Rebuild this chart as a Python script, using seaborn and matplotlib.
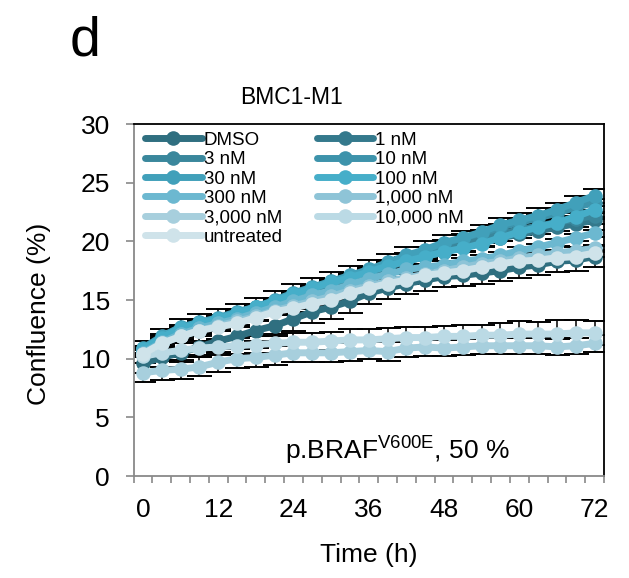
import pandas as pd
import numpy as np
import seaborn as sns
import matplotlib.pyplot as plt
from matplotlib.ticker import FixedLocator

# time points (h)
time_h = [0, 3, 6, 9, 12, 15, 18, 21, 24, 27, 30, 33, 36, 39, 42, 45, 48, 51, 54, 57, 60, 63, 66, 69, 72]

dmso = [9.6, 10.1, 10.5, 11.0, 11.5, 11.9, 12.4, 12.8, 13.4, 14.0, 14.4, 14.9, 15.6, 16.0, 16.4, 16.7, 17.0, 17.1, 17.3, 17.5, 17.8, 18.0, 18.3, 18.4, 18.7]
nm_1 = [10.6, 11.5, 12.3, 12.8, 13.2, 13.7, 14.2, 14.7, 15.3, 15.8, 16.3, 16.8, 17.3, 17.8, 18.3, 18.7, 19.1, 19.5, 19.9, 20.3, 20.6, 20.9, 21.2, 21.5, 21.8]
nm_3 = [10.7, 11.6, 12.4, 12.9, 13.3, 13.8, 14.3, 14.8, 15.4, 15.9, 16.4, 16.9, 17.4, 17.9, 18.4, 18.9, 19.4, 19.8, 20.2, 20.6, 21.0, 21.3, 21.6, 21.9, 22.2]
nm_10 = [10.8, 11.7, 12.5, 13.0, 13.4, 13.9, 14.4, 14.9, 15.5, 16.0, 16.5, 17.0, 17.5, 18.1, 18.7, 19.2, 19.8, 20.3, 20.7, 21.2, 21.6, 22.0, 22.4, 22.9, 23.3]
nm_30 = [10.9, 11.9, 12.7, 13.1, 13.5, 14.0, 14.4, 15.0, 15.6, 16.1, 16.6, 17.1, 17.6, 18.2, 18.8, 19.3, 19.9, 20.3, 20.8, 21.4, 21.8, 22.2, 22.7, 23.3, 23.9]
nm_100 = [10.8, 11.8, 12.6, 13.0, 13.4, 13.9, 14.4, 14.9, 15.5, 16.0, 16.5, 16.9, 17.4, 17.9, 18.3, 18.7, 19.1, 19.4, 19.8, 20.3, 20.8, 21.2, 21.6, 22.1, 22.7]
nm_300 = [10.5, 11.4, 12.1, 12.6, 13.0, 13.4, 13.9, 14.4, 14.9, 15.4, 15.8, 16.3, 16.8, 17.2, 17.6, 17.8, 18.0, 18.3, 18.5, 18.8, 19.2, 19.5, 19.9, 20.3, 20.7]
nm_1000 = [10.4, 11.3, 11.9, 12.4, 12.8, 13.2, 13.6, 14.1, 14.5, 14.9, 15.3, 15.8, 16.2, 16.6, 16.9, 17.2, 17.5, 17.8, 18.1, 18.3, 18.6, 18.8, 19.0, 19.2, 19.4]
nm_3000 = [8.8, 9.0, 9.1, 9.3, 9.7, 10.0, 10.1, 10.3, 10.5, 10.5, 10.5, 10.6, 10.7, 10.6, 10.9, 11.0, 10.9, 11.0, 11.1, 11.1, 11.1, 11.1, 11.0, 11.1, 11.3]
nm_10000 = [10.2, 10.5, 10.7, 10.9, 11.0, 11.1, 11.2, 11.3, 11.4, 11.4, 11.5, 11.6, 11.6, 11.7, 11.8, 11.8, 11.9, 11.9, 12.0, 12.0, 12.1, 12.1, 12.1, 12.2, 12.2]
untreated = [10.4, 11.3, 11.9, 12.4, 12.7, 13.0, 13.5, 14.0, 14.3, 14.7, 15.0, 15.6, 16.0, 16.4, 16.7, 17.1, 17.3, 17.5, 17.8, 18.1, 18.3, 18.4, 18.6, 18.7, 19.0]

# standard deviations
sd_dmso = [0.8, 0.8, 0.8, 0.9, 0.9, 0.9, 0.9, 0.9, 1.0, 1.0, 1.0, 1.0, 0.9, 0.9, 0.9, 0.9, 0.9, 0.9, 0.9, 0.9, 0.9, 0.9, 0.9, 0.9, 0.9]
sd_top = [0.6, 0.6, 0.7, 0.7, 0.7, 0.7, 0.8, 0.8, 0.8, 0.8, 0.8, 0.8, 0.8, 0.7, 0.7, 0.7, 0.6, 0.6, 0.6, 0.6, 0.6, 0.6, 0.6, 0.6, 0.6]
sd_mid = [0.3, 0.3, 0.3, 0.3, 0.3, 0.3, 0.3, 0.3, 0.3, 0.3, 0.3, 0.3, 0.3, 0.3, 0.3, 0.3, 0.3, 0.3, 0.3, 0.3, 0.3, 0.3, 0.3, 0.3, 0.3]
sd_3000 = [0.8, 0.8, 0.8, 0.8, 0.8, 0.8, 0.8, 0.8, 0.8, 0.8, 0.8, 0.8, 0.7, 0.8, 0.8, 0.8, 0.7, 0.7, 0.7, 0.7, 0.7, 0.7, 0.7, 0.7, 0.7]
sd_10000 = [0.6, 0.6, 0.6, 0.6, 0.7, 0.7, 0.7, 0.8, 0.8, 0.8, 0.8, 0.9, 0.9, 0.9, 0.9, 0.9, 0.9, 1.0, 0.9, 1.0, 1.1, 1.0, 1.2, 1.1, 1.0]

labels = ['DMSO', '1 nM', '3 nM', '10 nM', '30 nM', '100 nM', '300 nM',
          '1,000 nM', '3,000 nM', '10,000 nM', 'untreated']
series = [dmso, nm_1, nm_3, nm_10, nm_30, nm_100, nm_300, nm_1000, nm_3000, nm_10000, untreated]
errors = [sd_dmso, sd_mid, sd_mid, sd_mid, sd_top, sd_mid, sd_mid, sd_mid, sd_3000, sd_10000, sd_mid]
colors = ['#2f6f80', '#34798c', '#3a879c', '#3d93ab', '#41a0ba', '#46aec9',
          '#6cb8d0', '#8ec4d7', '#a7cfdd', '#bbdae5', '#cfe3ea']

rows = []
for lab, vals in zip(labels, series):
    for t, v in zip(time_h, vals):
        rows.append({'time': t, 'confluence': v, 'treatment': lab})
df = pd.DataFrame(rows)

sns.set_style('ticks')
plt.rcParams['font.family'] = ['Liberation Sans', 'DejaVu Sans']
plt.rcParams['mathtext.fontset'] = 'custom'
plt.rcParams['mathtext.rm'] = 'Liberation Sans'
plt.rcParams['text.color'] = 'black'
plt.rcParams['axes.labelcolor'] = 'black'
plt.rcParams['xtick.labelcolor'] = 'black'
plt.rcParams['ytick.labelcolor'] = 'black'

fig = plt.figure(figsize=(6.29, 5.78), dpi=100)
ax = fig.add_axes([133.5 / 629, 1 - 476 / 578, 470.5 / 629, 352 / 578])

for vals, err in zip(series, errors):
    ax.errorbar(time_h, vals, yerr=err, fmt='none', ecolor='black',
                elinewidth=1.1, capsize=9, capthick=1.4, zorder=1)

sns.lineplot(data=df, x='time', y='confluence', hue='treatment', hue_order=labels,
             palette=dict(zip(labels, colors)), marker='o', markersize=10.5,
             markeredgewidth=0, linewidth=5, ax=ax, zorder=3)

ax.set_xlim(-1.5, 73.5)
ax.set_ylim(0, 30)
ax.set_xticks([0, 12, 24, 36, 48, 60, 72])
ax.xaxis.set_minor_locator(FixedLocator([-1.5 + 3 * k for k in range(26)]))
ax.tick_params(axis='x', which='major', length=0, pad=16, labelsize=19)
ax.tick_params(axis='x', which='minor', length=5, width=1.2, color='#898989', direction='out')
ax.set_yticks([0, 5, 10, 15, 20, 25, 30])
ax.tick_params(axis='y', length=6, width=1.2, color='#898989', pad=11, labelsize=19)

for s in ['left', 'bottom']:
    ax.spines[s].set_color('#898989')
    ax.spines[s].set_linewidth(1.3)
for s in ['top', 'right']:
    ax.spines[s].set_visible(True)
    ax.spines[s].set_color('black')
    ax.spines[s].set_linewidth(1.3)

ax.set_xlabel('Time (h)', fontsize=19)
ax.set_ylabel('Confluence (%)', fontsize=19)
ax.xaxis.set_label_coords(0.5, -0.19)
ax.yaxis.set_label_coords(-0.175, 0.46)

# legend filled row by row like the original
handles, labs = ax.get_legend_handles_labels()
order = [0, 2, 4, 6, 8, 10, 1, 3, 5, 7, 9]
ax.legend([handles[i] for i in order], [labs[i] for i in order], ncol=2,
          loc='upper left', frameon=False, fontsize=13.5,
          bbox_to_anchor=(0.025, 0.978), borderaxespad=0, borderpad=0,
          handlelength=3.0, handletextpad=0.12, labelspacing=0.12, columnspacing=1.8)

ax.text(0.56, 0.074, r'p.BRAF$^{\mathrm{V600E}}$, 50 %', transform=ax.transAxes,
        ha='center', va='center', fontsize=19)

fig.text(291 / 629, 1 - 97 / 578, 'BMC1-M1', ha='center', va='center', fontsize=16.5)
fig.text(85 / 629, 1 - 42 / 578, 'd', ha='center', va='center', fontsize=40)

fig.savefig('out.png', dpi=100)
